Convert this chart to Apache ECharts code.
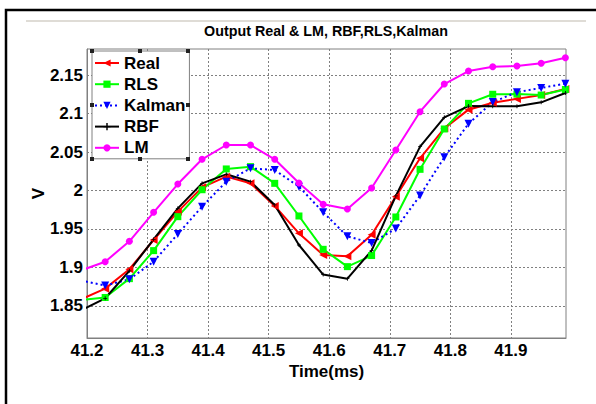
<!DOCTYPE html>
<html>
<head>
<meta charset="utf-8">
<script src="https://cdn.jsdelivr.net/npm/echarts@6/dist/echarts.min.js"></script>
<style>html,body{margin:0;padding:0;background:#fff}#c{width:596px;height:404px}</style>
</head>
<body>
<div id="c"></div>
<script>
const times = [41.19, 41.23, 41.27, 41.31, 41.35, 41.39, 41.43, 41.47, 41.51, 41.55, 41.59, 41.63, 41.67, 41.71, 41.75, 41.79, 41.83, 41.87, 41.91, 41.95, 41.99];
const real   = [1.8585, 1.8725, 1.8977, 1.9357, 1.9725, 2.0041, 2.0180, 2.0093, 1.9800, 1.9444, 1.9162, 1.9145, 1.9425, 1.9920, 2.0418, 2.0807, 2.1050, 2.1140, 2.1190, 2.1240, 2.1320];
const rls    = [1.8579, 1.8610, 1.8855, 1.9219, 1.9660, 2.0010, 2.0280, 2.0310, 2.0093, 1.9669, 1.9236, 1.9011, 1.9155, 1.9656, 2.0275, 2.0799, 2.1132, 2.1250, 2.1252, 2.1240, 2.1312];
const kalman = [1.8831, 1.8765, 1.8847, 1.9075, 1.9435, 1.9790, 2.0115, 2.0288, 2.0266, 2.0050, 1.9717, 1.9405, 1.9318, 1.9505, 1.9935, 2.0431, 2.0868, 2.1148, 2.1277, 2.1333, 2.1388];
const rbf    = [1.8444, 1.8600, 1.8957, 1.9366, 1.9768, 2.0093, 2.0210, 2.0115, 1.9812, 1.9292, 1.8908, 1.8855, 1.9220, 1.9930, 2.0570, 2.0950, 2.1097, 2.1093, 2.1093, 2.1145, 2.1266];
const lm     = [1.8961, 1.9075, 1.9340, 1.9717, 2.0084, 2.0405, 2.0591, 2.0591, 2.0405, 2.0097, 1.9820, 1.9760, 2.0032, 2.0526, 2.1024, 2.1383, 2.1552, 2.1608, 2.1617, 2.1652, 2.1725];
const seriesNames = ['Real', 'RLS', 'Kalman', 'RBF', 'LM'];
const xTicks = [41.2, 41.3, 41.4, 41.5, 41.6, 41.7, 41.8, 41.9];
const yTicks = [1.85, 1.9, 1.95, 2, 2.05, 2.1, 2.15];
const titleText = 'Output Real & LM, RBF,RLS,Kalman';
const xName = 'Time(ms)';
const yName = 'V';

const F = '"Liberation Sans", Arial, sans-serif';
const pairs = arr => times.map((t, i) => [t, arr[i]]);
const plusPath = 'path://M4,0H6V4H10V6H6V10H4V6H0V4H4Z';

function mk(name, arr, color, symbol, size, rotate, dotted) {
  return {
    name, type: 'line', data: pairs(arr), clip: true,
    showSymbol: true, showAllSymbol: true,
    symbol, symbolSize: size, symbolRotate: rotate || 0,
    itemStyle: { color },
    lineStyle: { color, width: 2, type: dotted ? [2, 3] : 'solid' },
    emphasis: { disabled: true }
  };
}

const chart = echarts.init(document.getElementById('c'), null, { renderer: 'svg' });
chart.setOption({
  animation: false,
  backgroundColor: '#fff',
  title: {
    text: titleText, left: 326, top: 24, textAlign: 'center', padding: 0,
    textStyle: { fontFamily: F, fontWeight: 'bold', fontSize: 14.3, color: '#000' }
  },
  legend: {
    orient: 'vertical', left: 92, top: 51,
    itemWidth: 24, itemHeight: 9, itemGap: 3.2,
    padding: [3, 4, 2, 2],
    backgroundColor: '#fff', borderColor: '#808080', borderWidth: 1,
    textStyle: { fontFamily: F, fontWeight: 'bold', fontSize: 17, color: '#000', lineHeight: 18 },
    data: seriesNames
  },
  grid: { left: 87, top: 49, width: 479, height: 289, show: true, borderColor: '#808080', borderWidth: 1, backgroundColor: 'transparent' },
  xAxis: {
    type: 'value', min: 41.2, max: 41.991,
    name: xName, nameLocation: 'middle', nameGap: 24.5, nameMoveOverlap: false,
    nameTextStyle: { fontFamily: F, fontWeight: 'bold', fontSize: 17, lineHeight: 17, color: '#000' },
    axisLine: { show: true, lineStyle: { color: '#808080', width: 1 } },
    axisTick: { show: false, customValues: xTicks },
    axisLabel: { customValues: xTicks, formatter: v => (+v).toFixed(1), fontFamily: F, fontWeight: 'bold', fontSize: 17, lineHeight: 17, color: '#000', margin: 4 },
    splitLine: { show: true, lineStyle: { color: '#808080', type: [2, 2], width: 1 } }
  },
  yAxis: {
    type: 'value', min: 1.8084, max: 2.1838,
    name: yName, nameLocation: 'middle', nameGap: 40, nameRotate: 90, nameMoveOverlap: false,
    nameTextStyle: { fontFamily: F, fontWeight: 'bold', fontSize: 17, color: '#000' },
    axisLine: { show: true, lineStyle: { color: '#808080', width: 1 } },
    axisTick: { show: false, customValues: yTicks },
    axisLabel: { customValues: yTicks, formatter: v => String(+(+v).toFixed(2)), fontFamily: F, fontWeight: 'bold', fontSize: 17, color: '#000', margin: 4 },
    splitLine: { show: true, lineStyle: { color: '#808080', type: [2, 2], width: 1 } }
  },
  graphic: [
    { type: 'rect', z: 100, silent: true, shape: { x: 6, y: 10, width: 800, height: 600 }, style: { fill: 'none', stroke: '#000', lineWidth: 2.5 } },
    { type: 'line', z: 100, silent: true, shape: { x1: 26, y1: 21, x2: 586, y2: 21 }, style: { stroke: '#d4d0c8', lineWidth: 1.5 } },
    { type: 'rect', z: 100, silent: true, shape: { x: 90, y: 49, width: 4, height: 4 }, style: { fill: '#222' } },
    { type: 'rect', z: 100, silent: true, shape: { x: 138, y: 49, width: 4, height: 4 }, style: { fill: '#222' } },
    { type: 'rect', z: 100, silent: true, shape: { x: 186, y: 49, width: 4, height: 4 }, style: { fill: '#222' } },
    { type: 'rect', z: 100, silent: true, shape: { x: 90, y: 103, width: 4, height: 4 }, style: { fill: '#222' } },
    { type: 'rect', z: 100, silent: true, shape: { x: 186, y: 103, width: 4, height: 4 }, style: { fill: '#222' } },
    { type: 'rect', z: 100, silent: true, shape: { x: 90, y: 157, width: 4, height: 4 }, style: { fill: '#222' } },
    { type: 'rect', z: 100, silent: true, shape: { x: 138, y: 157, width: 4, height: 4 }, style: { fill: '#222' } },
    { type: 'rect', z: 100, silent: true, shape: { x: 186, y: 157, width: 4, height: 4 }, style: { fill: '#222' } }
  ],
  series: [
    mk('Real', real, '#ff0000', 'triangle', 8, 90, false),
    mk('RLS', rls, '#00ff00', 'rect', 7, 0, false),
    mk('Kalman', kalman, '#0000ff', 'triangle', 8, 180, true),
    mk('RBF', rbf, '#000000', plusPath, 4, 0, false),
    mk('LM', lm, '#ff00ff', 'circle', 7, 0, false)
  ]
});
</script>
</body>
</html>
